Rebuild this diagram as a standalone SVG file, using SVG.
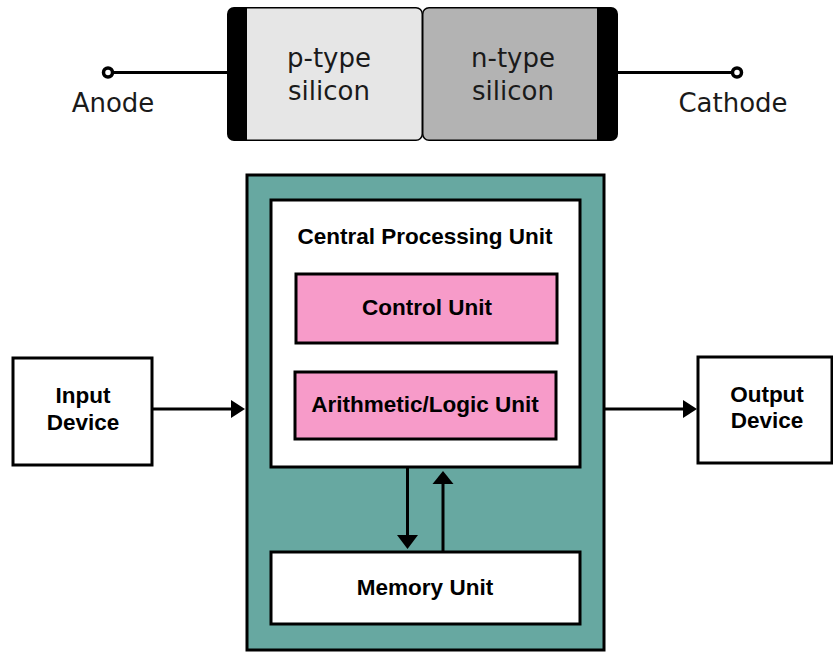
<svg xmlns="http://www.w3.org/2000/svg" width="833" height="653" viewBox="0 0 833 653">
<style>
.lbl{font-family:"DejaVu Sans",sans-serif;font-size:26px;fill:#1a1a1a;text-anchor:middle}
.b{font-family:"Liberation Sans",Arial,sans-serif;font-weight:bold;font-size:22.5px;fill:#000;text-anchor:middle}
.box{stroke:#000;stroke-width:3}
.wire{stroke:#000;stroke-width:3;fill:none}
.term{fill:#fff;stroke:#000;stroke-width:3.5}
</style>
<g id="diode">
<g id="p-region">
<rect x="227" y="7" width="196" height="134" rx="7" fill="#000"/>
<path d="M247,8.5 H416 a5.5,5.5 0 0 1 5.5,5.5 V134 a5.5,5.5 0 0 1 -5.5,5.5 H247 Z" fill="#e6e6e6"/>
<text class="lbl" x="329" y="67">p-type</text>
<text class="lbl" x="329" y="100">silicon</text>
</g>
<g id="n-region">
<rect x="422" y="7" width="196" height="134" rx="7" fill="#000"/>
<path d="M597,8.5 H429 a5.5,5.5 0 0 0 -5.5,5.5 V134 a5.5,5.5 0 0 0 5.5,5.5 H597 Z" fill="#b3b3b3"/>
<text class="lbl" x="513" y="67">n-type</text>
<text class="lbl" x="513" y="100">silicon</text>
</g>
<g id="anode">
<line class="wire" x1="112" y1="72.5" x2="227" y2="72.5" stroke-width="3.5"/>
<circle class="term" cx="108" cy="72.5" r="4.5"/>
<text class="lbl" x="113" y="112">Anode</text>
</g>
<g id="cathode">
<line class="wire" x1="618" y1="72.5" x2="733" y2="72.5" stroke-width="3.5"/>
<circle class="term" cx="737" cy="72.5" r="4.5"/>
<text class="lbl" x="733" y="112">Cathode</text>
</g>
</g>
<g id="computer">
<rect class="box" x="247" y="175" width="357" height="475" fill="#67a8a1"/>
</g>
<g id="cpu">
<rect class="box" x="271" y="200" width="309" height="267" fill="#fff"/>
<text class="b" x="425" y="244">Central Processing Unit</text>
</g>
<g id="control-unit">
<rect class="box" x="296" y="274" width="261" height="69" fill="#f79bc9"/>
<text class="b" x="427" y="315">Control Unit</text>
</g>
<g id="alu">
<rect class="box" x="295" y="372" width="261" height="67" fill="#f79bc9"/>
<text class="b" x="425" y="412">Arithmetic/Logic Unit</text>
</g>
<g id="memory">
<rect class="box" x="271" y="552" width="309" height="72" fill="#fff"/>
<text class="b" x="425" y="595">Memory Unit</text>
</g>
<g id="input">
<rect class="box" x="13" y="358" width="139" height="107" fill="#fff"/>
<text class="b" x="83" y="403">Input</text>
<text class="b" x="83" y="430">Device</text>
</g>
<g id="output">
<rect class="box" x="698" y="357" width="134" height="106" fill="#fff"/>
<text class="b" x="767" y="402">Output</text>
<text class="b" x="767" y="428">Device</text>
</g>
<g id="connectors">
<line class="wire" x1="152" y1="409" x2="232" y2="409"/>
<path d="M231,400 L245,409 L231,418 Z" fill="#000"/>
<line class="wire" x1="604" y1="409" x2="684" y2="409"/>
<path d="M683,400 L697,409 L683,418 Z" fill="#000"/>
<line class="wire" x1="407.5" y1="467" x2="407.5" y2="537"/>
<path d="M397,535 L418,535 L407.5,549 Z" fill="#000"/>
<line class="wire" x1="443" y1="552" x2="443" y2="483"/>
<path d="M432.5,484 L453.5,484 L443,471 Z" fill="#000"/>
</g>
</svg>
